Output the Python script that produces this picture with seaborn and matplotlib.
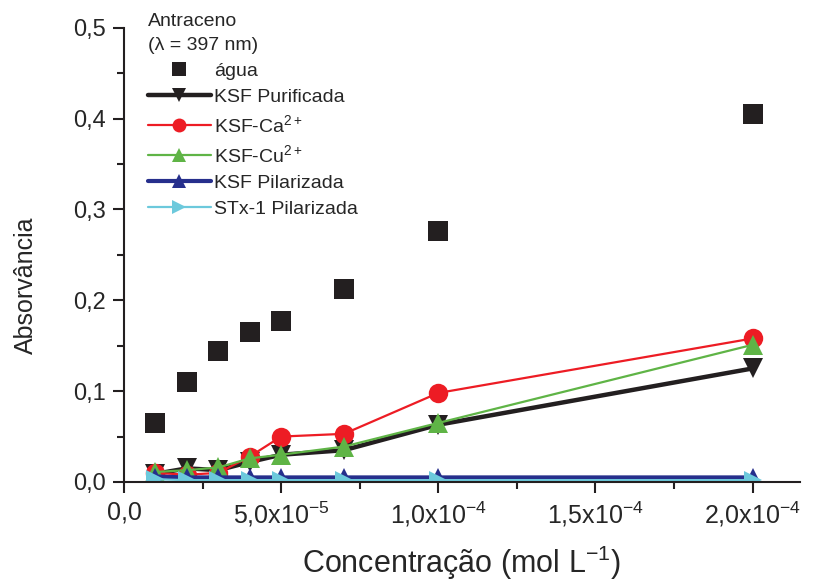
import matplotlib
matplotlib.use("Agg")
import matplotlib.pyplot as plt
import seaborn as sns
from matplotlib.ticker import MultipleLocator

sns.set_style("ticks")
plt.rcParams["font.family"] = ["Liberation Sans", "DejaVu Sans"]
plt.rcParams["mathtext.fontset"] = "custom"
plt.rcParams["mathtext.rm"] = "Liberation Sans"
plt.rcParams["mathtext.it"] = "Liberation Sans"
plt.rcParams["mathtext.bf"] = "Liberation Sans"

# Concentration of anthracene (mol/L)
conc = [1e-5, 2e-5, 3e-5, 4e-5, 5e-5, 7e-5, 1e-4, 2e-4]

# Absorbance at 397 nm
agua = [0.065, 0.110, 0.144, 0.165, 0.177, 0.212, 0.276, 0.405]
ksf_purificada = [0.009, 0.015, 0.013, 0.022, 0.030, 0.035, 0.063, 0.125]
ksf_ca = [0.010, 0.008, 0.010, 0.028, 0.050, 0.053, 0.098, 0.158]
ksf_cu = [0.011, 0.013, 0.016, 0.026, 0.030, 0.039, 0.065, 0.151]
ksf_pilarizada = [0.006, 0.005, 0.005, 0.005, 0.005, 0.005, 0.005, 0.005]
stx_pilarizada = [0.003, 0.002, 0.002, 0.002, 0.002, 0.002, 0.002, 0.002]

series_labels = ["água", "KSF Purificada", "KSF-Ca$^{2+}$", "KSF-Cu$^{2+}$",
                 "KSF Pilarizada", "STx-1 Pilarizada"]

xtick_values = [0.0, 5e-5, 1e-4, 1.5e-4, 2e-4]
xtick_labels = ["0,0", "5,0x10$^{-5}$", "1,0x10$^{-4}$", "1,5x10$^{-4}$", "2,0x10$^{-4}$"]
ytick_values = [0.0, 0.1, 0.2, 0.3, 0.4, 0.5]
ytick_labels = ["0,0", "0,1", "0,2", "0,3", "0,4", "0,5"]

fig = plt.figure(figsize=(8.27, 5.8), dpi=100)
ax = fig.add_axes([0.150, 0.169, 0.817, 0.783])

sns.lineplot(x=conc, y=agua, ax=ax, color="#231f20", marker="s", markersize=14,
             markeredgewidth=0, linestyle="none", label=series_labels[0])
sns.lineplot(x=conc, y=ksf_purificada, ax=ax, color="#231f20", marker="v", markersize=15,
             markeredgewidth=0, linewidth=3.2, label=series_labels[1])
sns.lineplot(x=conc, y=ksf_ca, ax=ax, color="#ed1c24", marker="o", markersize=14,
             markeredgewidth=0, linewidth=1.6, label=series_labels[2])
sns.lineplot(x=conc, y=ksf_cu, ax=ax, color="#5fb446", marker="^", markersize=15,
             markeredgewidth=0, linewidth=1.6, label=series_labels[3])
sns.lineplot(x=conc, y=ksf_pilarizada, ax=ax, color="#262f8c", marker="^", markersize=13,
             markeredgewidth=0, linewidth=3.0, label=series_labels[4])
sns.lineplot(x=conc, y=stx_pilarizada, ax=ax, color="#6cc9dc", marker=">", markersize=13,
             markeredgewidth=0, linewidth=1.6, label=series_labels[5])

ax.set_xlim(0, 2.15e-4)
ax.set_ylim(0, 0.5)
ax.set_xticks(xtick_values)
ax.set_xticklabels(xtick_labels, fontsize=18)
ax.set_yticks(ytick_values)
ax.set_yticklabels(ytick_labels, fontsize=17)
ax.xaxis.set_minor_locator(MultipleLocator(2.5e-5))
ax.yaxis.set_minor_locator(MultipleLocator(0.05))
ax.tick_params(which="major", direction="out", length=8, width=1.5, color="#231f20", pad=5)
ax.tick_params(which="minor", direction="out", length=5, width=1.5, color="#231f20")

for side in ("top", "right"):
    ax.spines[side].set_visible(False)
for side in ("left", "bottom"):
    ax.spines[side].set_linewidth(1.5)
    ax.spines[side].set_color("#231f20")

ax.set_xlabel("Concentração (mol L$^{-1}$)", fontsize=22, labelpad=10)
ax.set_ylabel("Absorvância", fontsize=18)
ax.yaxis.set_label_coords(-0.127, 0.434)

leg = ax.legend(title="Antraceno\n(λ = 397 nm)", loc="upper left",
                bbox_to_anchor=(0.036, 1.032), frameon=False, fontsize=14,
                title_fontsize=14, handlelength=3.2, handletextpad=0.2,
                labelspacing=0.42, borderaxespad=0, borderpad=0,
                alignment="left")
leg.get_title().set_linespacing(1.55)
for handle in leg.legend_handles:
    handle.set_markersize(10)

fig.savefig("out.png", dpi=100)
